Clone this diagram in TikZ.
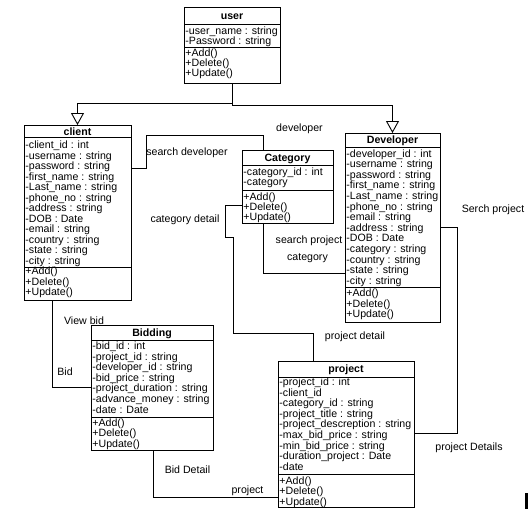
\documentclass[tikz,border=0pt]{standalone}
\usepackage{fontspec}
\setmainfont{Liberation Sans}
\usetikzlibrary{arrows.meta}
\newcommand\fs{\fontsize{10.6}{10.6}\selectfont}
\newcommand\clsrows[5]{\foreach \t [count=\i] in {#5} {\node[txt] (#1\i) at (#2,{#3+(\i-1)*#4}) {\t};}}
\begin{document}
\begin{tikzpicture}[x=1pt,y=-1pt,line width=0.9pt,
  box/.style={draw,anchor=north west,inner sep=0pt,outer sep=0pt},
  txt/.style={anchor=base west,inner sep=0pt,font=\fs},
  ttl/.style={anchor=base,inner sep=0pt,font=\fs\bfseries},
  lbl/.style={inner sep=0pt,font=\fs},
  inh/.style={-{Triangle[open,length=12pt,width=13pt]}}]
\fill[white] (0,0) rectangle (528,523);
\useasboundingbox (0,0) rectangle (528,523);

% user
\node[box,minimum width=96pt,minimum height=76pt] (user) at (184,7) {};
\draw (user.west |- 0,24) -- (user.east |- 0,24);
\draw (user.west |- 0,47) -- (user.east |- 0,47);
\node[ttl] (user-t) at (232,19.5) {user};
\clsrows{user-a}{185}{34.5}{9.8}{-user\_name : string,-Password : string}
\clsrows{user-m}{185}{56.5}{10}{+Add(),+Delete(),+Update()}

% client
\node[box,minimum width=107pt,minimum height=175pt] (client) at (24,125) {};
\draw (client.west |- 0,137) -- (client.east |- 0,137);
\draw (client.west |- 0,267) -- (client.east |- 0,267);
\node[ttl] (client-t) at (77.5,135) {client};
\clsrows{client-a}{25}{148.5}{10.5}{-client\_id : int,-username : string,-password : string,-first\_name : string,-Last\_name : string,-phone\_no : string,-address : string,-DOB : Date,-email : string,-country : string,-state : string,-city : string}
\clsrows{client-m}{25}{274.5}{10.5}{+Add(),+Delete(),+Update()}

% Developer
\node[box,minimum width=95pt,minimum height=189pt] (dev) at (345,133) {};
\draw (dev.west |- 0,147) -- (dev.east |- 0,147);
\draw (dev.west |- 0,287) -- (dev.east |- 0,287);
\node[ttl] (dev-t) at (392.5,143) {Developer};
\clsrows{dev-a}{346}{157}{10.6}{-developer\_id : int,-username : string,-password : string,-first\_name : string,-Last\_name : string,-phone\_no : string,-email : string,-address : string,-DOB : Date,-category : string,-country : string,-state : string,-city : string}
\clsrows{dev-m}{346}{296.5}{10.5}{+Add(),+Delete(),+Update()}

% Category
\node[box,minimum width=91pt,minimum height=73pt] (cat) at (242,150) {};
\draw (cat.west |- 0,165) -- (cat.east |- 0,165);
\draw (cat.west |- 0,190) -- (cat.east |- 0,190);
\node[ttl] (cat-t) at (287.5,161) {Category};
\clsrows{cat-a}{243}{175.5}{10}{-category\_id : int,-category}
\clsrows{cat-m}{243}{200}{10.3}{+Add(),+Delete(),+Update()}

% Bidding
\node[box,minimum width=122pt,minimum height=125pt] (bid) at (91,325) {};
\draw (bid.west |- 0,340) -- (bid.east |- 0,340);
\draw (bid.west |- 0,417) -- (bid.east |- 0,417);
\node[ttl] (bid-t) at (152,336) {Bidding};
\clsrows{bid-a}{92}{349.5}{10.6}{-bid\_id : int,-project\_id : string,-developer\_id : string,-bid\_price : string,-project\_duration : string,-advance\_money : string,-date : Date}
\clsrows{bid-m}{92}{426.5}{10.3}{+Add(),+Delete(),+Update()}

% project
\node[box,minimum width=136pt,minimum height=146pt] (proj) at (278,361) {};
\draw (proj.west |- 0,377) -- (proj.east |- 0,377);
\draw (proj.west |- 0,474) -- (proj.east |- 0,474);
\node[ttl] (proj-t) at (346,372.5) {project};
\clsrows{proj-a}{279}{385.5}{10.6}{-project\_id : int,-client\_id,-category\_id : string,-project\_title : string,-project\_descreption : string,-max\_bid\_price : string,-min\_bid\_price : string,-duration\_project : Date,-date}
\clsrows{proj-m}{279}{484}{10.5}{+Add(),+Delete(),+Update()}

% generalisation
\draw[inh] (user.south) -- (user.south |- 0,105) -| (dev.north);
\draw[inh] (user.south |- 0,103) -| (client.north);

% associations
\draw (client.east |- 0,168) -- (146,168) -- (146,135) -- (263,135) -- (cat.north -| 263,0);
\draw (cat.west |- 0,205) -- (225,205) -- (225,237) -- (233,237) -- (233,333) -- (313,333) -- (proj.north -| 313,0);
\draw (cat.south -| 263,0) -- (263,273) -- (dev.west |- 0,273);
\draw (dev.east |- 0,227) -- (457,227) -- (457,433) -- (proj.east |- 0,433);
\draw (client.south -| 52,0) -- (52,387) -- (bid.west |- 0,387);
\draw (bid.south -| 153,0) -- (153,497) -- (proj.west |- 0,497);

% labels
\node[lbl] (l1) at (299.5,129) {developer};
\node[lbl] (l2) at (187,153) {search developer};
\node[lbl] (l3) at (185,220) {category detail};
\node[lbl] (l4) at (309,241) {search project};
\node[lbl] (l5) at (307.5,258) {category};
\node[lbl] (l6) at (355,337) {project detail};
\node[lbl] (l7) at (493,210) {Serch project};
\node[lbl] (l8) at (469,448) {project Details};
\node[lbl] (l9) at (84,321) {View bid};
\node[lbl] (l10) at (65,372) {Bid};
\node[lbl] (l11) at (187.5,470) {Bid Detail};
\node[lbl] (l12) at (247.5,491) {project};

\fill (525,493) rectangle (527.5,509);
\end{tikzpicture}
\end{document}
